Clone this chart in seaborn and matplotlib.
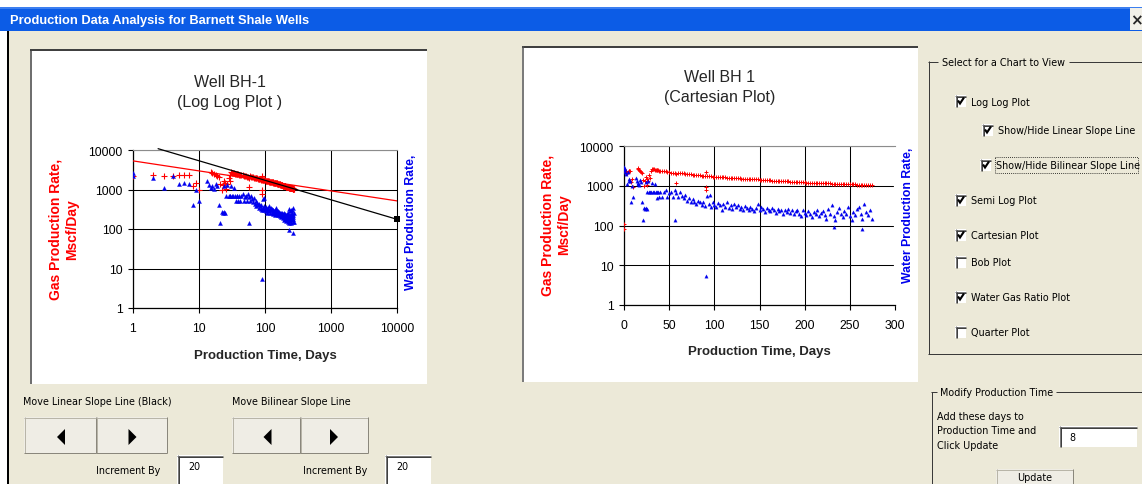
import numpy as np
import pandas as pd
import matplotlib
matplotlib.use("Agg")
import matplotlib.pyplot as plt
from matplotlib.patches import Rectangle, Polygon
from matplotlib.ticker import NullLocator
import seaborn as sns

nan = np.nan

# ---------------- data ----------------
days_a = [0, 1, 2, 3, 4, 5, 6, 7, 8, 9,
          10, 11, 12, 13, 14, 15, 16, 17, 18, 19,
          20, 21, 22, 23, 24, 25, 26, 27, 28, 29,
          30, 31, 32, 33, 34, 35, 36, 37, 38, 39,
          40]
gas_a = [80, 2250, 2300, 2150, 2250, 2300, 2300, 2300, 1250, 1500,
         950, nan, nan, nan, nan, 2800, 2650, 2500, 2350, 2200,
         2050, 1400, 1000, 1300, 1650, 1450, 1050, 1350, 1900, 1600,
         2300, 2700, 2650, 2600, 2550, 2500, 2480, 2450, 2430, 2400,
         2380]
water_a = [3000, 2200, 2000, 1100, 2200, 1350, 1500, 1350, 400, 1000,
           520, nan, nan, 1600, 1300, 1100, 1200, 1050, 1400, 1250,
           400, 140, 270, 260, 1250, 260, 680, 1300, 700, 680,
           680, 1200, 690, 680, 1100, 680, 500, 690, 700, 520,
           680]

days_b = [42, 44, 46, 48, 50, 52, 54, 56, 58, 60,
          62, 64, 66, 68, 70, 72, 74, 76, 78, 80,
          82, 84, 86, 88, 90, 92, 94, 96, 98, 100,
          102, 104, 106, 108, 110, 112, 114, 116, 118, 120,
          122, 124, 126, 128, 130, 132, 134, 136, 138, 140,
          142, 144, 146, 148, 150, 152, 154, 156, 158, 160,
          162, 164, 166, 168, 170, 172, 174, 176, 178, 180,
          182, 184, 186, 188, 190, 192, 194, 196, 198, 200,
          202, 204, 206, 208, 210, 212, 214, 216, 218, 220,
          222, 224, 226, 228, 230, 232, 234, 236, 238, 240,
          242, 244, 246, 248, 250, 252, 254, 256, 258, 260,
          262, 264, 266, 268, 270, 272, 274]
gas_b = [2350, 2330, 2300, 2250, 2200, 2150, 2100, 2050, 2000, 2150,
         2100, 2080, 2050, 2000, 1980, 1950, 1920, 1900, 1880, 1860,
         1840, 1820, 1800, 1780, 1760, 1750, 1740, 1720, 1700, 1690,
         1680, 1660, 1650, 1640, 1630, 1620, 1600, 1590, 1580, 1570,
         1560, 1550, 1540, 1530, 1520, 1510, 1500, 1490, 1480, 1470,
         1460, 1460, 1450, 1440, 1430, 1420, 1400, 1380, 1370, 1370,
         1360, 1350, 1340, 1340, 1330, 1320, 1310, 1300, 1300, 1290,
         1280, 1270, 1260, 1260, 1250, 1240, 1230, 1220, 1220, 1210,
         1200, 1200, 1190, 1190, 1180, 1180, 1170, 1170, 1160, 1160,
         1150, 1150, 1140, 1140, 1130, 1100, 1120, 1110, 1110, 1100,
         1100, 1100, 1090, 1090, 1090, 1080, 1080, 1080, 1070, 1070,
         1070, 1060, 1060, 1060, 1050, 1050, 1050]
water_b = [520, 700, 760, 520, 650, 700, 520, 760, 650, 520,
           700, 560, 480, 600, 420, 500, 380, 460, 400, 350,
           420, 380, 330, 400, 310, 560, 350, 300, 380, 320,
           290, 360, 330, 250, 340, 300, 380, 280, 320, 260,
           340, 300, 330, 260, 300, 240, 310, 280, 250, 300,
           260, 230, 280, 350, 240, 290, 260, 220, 280, 250,
           230, 270, 240, 210, 260, 230, 250, 200, 240, 220,
           260, 210, 240, 190, 230, 250, 200, 170, 240, 210,
           180, 230, 200, 160, 220, 190, 240, 170, 210, 230,
           180, 150, 260, 200, 320, 170, 140, 220, 280, 190,
           160, 230, 200, 300, 170, 140, 220, 180, 260, 300,
           200, 150, 340, 220, 180, 250, 150]

gas_extra_days = [0, 58, 91, 91, 91]
gas_extra = [110, 1150, 2250, 950, 780]
water_extra_days = [0.5, 1, 24, 57, 91, 95, 232, 263]
water_extra = [2500, 2600, 270, 140, 5.5, 600, 92, 80]

# slope lines of the log-log chart (end points)
linear_line_days = [2.4, 10000]
linear_line_rate = [10800, 176]
bilinear_line_days = [1, 10000]
bilinear_line_rate = [5300, 515]

rate_ticks = [1, 10, 100, 1000, 10000]
rate_tick_labels = ["1", "10", "100", "1000", "10000"]
loglog_day_ticks = [1, 10, 100, 1000, 10000]
loglog_day_labels = ["1", "10", "100", "1000", "10000"]
cart_day_ticks = [0, 50, 100, 150, 200, 250, 300]
cart_day_labels = ["0", "50", "100", "150", "200", "250", "300"]

checkbox_labels = ["Log Log Plot", "Show/Hide Linear Slope Line", "Show/Hide Bilinear Slope Line",
                   "Semi Log Plot", "Cartesian Plot", "Bob Plot", "Water Gas Ratio Plot", "Quarter Plot"]
checkbox_states = [True, True, True, True, True, False, True, False]

# ---------------- frames ----------------
gas_df = pd.DataFrame({"day": days_a + days_b + gas_extra_days,
                       "rate": gas_a + gas_b + gas_extra}).dropna()
water_df = pd.DataFrame({"day": days_a + days_b + water_extra_days,
                         "rate": water_a + water_b + water_extra}).dropna()

# ---------------- style ----------------
sns.set_style("white")
plt.rcParams['font.family'] = ['Liberation Sans', 'DejaVu Sans']
RED = '#FF0000'
BLUE = '#0000EE'
BEIGE = '#ECE9D8'
W, H = 1142, 485
PX = 0.72

fig = plt.figure(figsize=(W / 100, H / 100), dpi=100, facecolor=BEIGE)
bg = fig.add_axes([0, 0, 1, 1], zorder=0)
bg.set_xlim(0, W)
bg.set_ylim(H, 0)
bg.axis('off')


def rect(x0, y0, x1, y1, fc, ec='none', lw=0, z=1):
    bg.add_patch(Rectangle((x0, y0), x1 - x0, y1 - y0, facecolor=fc,
                           edgecolor=ec, linewidth=lw * PX, zorder=z))


def seg(xs, ys, c, lw=1, ls='-', z=3):
    bg.plot(xs, ys, color=c, lw=lw * PX, ls=ls, zorder=z, solid_capstyle='butt')


def ui_text(x, y, s, size=6.9, **kw):
    bg.text(x, y, s, fontsize=size, family=['DejaVu Sans'], va='center',
            ha=kw.pop('ha', 'left'), color='black', zorder=5, **kw)


def sunken(x0, y0, x1, y1):
    rect(x0, y0, x1, y1, 'white')
    seg([x0, x1], [y0 + 0.5, y0 + 0.5], '#7A7A7A', 1)
    seg([x0 + 0.5, x0 + 0.5], [y0, y1], '#7A7A7A', 1)
    seg([x0 + 1, x1], [y0 + 1.5, y0 + 1.5], '#404040', 1)
    seg([x0 + 1.5, x0 + 1.5], [y0 + 1, y1], '#404040', 1)


def button(x0, y0, x1, y1):
    rect(x0, y0, x1, y1, '#EFEDE5')
    seg([x0, x1], [y0 + 0.5, y0 + 0.5], '#B8B5A8', 1)
    seg([x0 + 0.5, x0 + 0.5], [y0, y1], '#B8B5A8', 1)
    seg([x0, x1], [y1 - 0.5, y1 - 0.5], '#8A877C', 1)
    seg([x1 - 0.5, x1 - 0.5], [y0, y1], '#8A877C', 1)


def triangle(cx, cy, direction):
    if direction < 0:
        pts = [(cx + 4, cy - 8), (cx + 4, cy + 8), (cx - 4, cy)]
    else:
        pts = [(cx - 4, cy - 8), (cx - 4, cy + 8), (cx + 4, cy)]
    bg.add_patch(Polygon(pts, closed=True, facecolor='black', edgecolor='none', zorder=5))


# title bar
rect(0, 0, W, 8, 'white')
rect(0, 8, W, 32, '#0C5CE6')
rect(0, 8, W, 10, '#3C7FF0')
bg.text(10, 21, "Production Data Analysis for Barnett Shale Wells", fontsize=9.3,
        weight='bold', color='white', va='center', ha='left', zorder=5,
        family=['Liberation Sans'])
rect(1130, 9, W, 31, '#F2F0E8')
bg.text(1136.5, 20.5, "×", fontsize=11, weight='bold', ha='center', va='center',
        family=['DejaVu Sans'], zorder=5)

# left window border
rect(0, 32, 7, H, 'white')
seg([7.5, 7.5], [32, H], 'black', 2)

# chart panels
rect(30, 50, 427, 385, 'white')
seg([30, 427], [51, 51], '#404040', 2)
seg([31, 31], [50, 385], '#404040', 1.5)
rect(522, 47, 918, 383, 'white')
seg([522, 918], [48, 48], '#404040', 2)
seg([523, 523], [47, 383], '#505050', 1.5)

# group box: chart selection
gb = '#3A3A3A'
seg([928, 938], [62.5, 62.5], gb, 1)
seg([1069, W], [62.5, 62.5], gb, 1)
seg([928.5, 928.5], [62, 355], gb, 1)
seg([928, W], [355, 355], gb, 1)
ui_text(942, 63, "Select for a Chart to View")

box_x = [955, 982, 980, 955, 955, 955, 955, 955]
box_y = [102, 131, 166, 201, 236, 263, 298, 333]
for lbl, state, bx, by in zip(checkbox_labels, checkbox_states, box_x, box_y):
    sunken(bx, by - 6, bx + 11, by + 6)
    if state:
        bg.plot([bx + 3, bx + 5, bx + 9], [by - 0.5, by + 2.5, by - 3.5], color='black',
                lw=2.1 * PX, zorder=6, solid_capstyle='butt', solid_joinstyle='miter')
    ui_text(bx + 16, by + 0.5, lbl)
# focus rectangle
bg.add_patch(Rectangle((994.5, 157.5), 143, 16, facecolor='none', edgecolor='black',
                       linewidth=0.6, linestyle=(0, (1, 1.5)), zorder=6))

# bottom-left controls
ui_text(23, 402, "Move Linear Slope Line (Black)")
ui_text(232, 402, "Move Bilinear Slope Line")
button(24, 418, 96, 454)
button(96, 418, 167, 454)
button(232, 418, 300, 454)
button(300, 418, 368, 454)
triangle(61, 438, -1)
triangle(132.5, 438, 1)
triangle(267.5, 438, -1)
triangle(334, 438, 1)
ui_text(96, 471, "Increment By")
ui_text(303, 471, "Increment By")
sunken(177, 456, 223, 490)
sunken(385, 456, 431, 490)
ui_text(188, 467, "20")
ui_text(396, 467, "20")

# bottom-right group box
seg([931, 937], [393, 393], gb, 1)
seg([1056, W], [393, 393], gb, 1)
seg([931.5, 931.5], [393, H], gb, 1)
ui_text(940, 393, "Modify Production Time")
ui_text(937, 417, "Add these days to")
ui_text(937, 431.5, "Production Time and")
ui_text(937, 446, "Click Update")
sunken(1059, 427, 1137, 448)
ui_text(1069, 438, "8")
button(996, 470, 1073, 492)
ui_text(1034.5, 478.5, "Update", ha='center')


# ---------------- charts ----------------
def axes_rect(x0, y0, x1, y1):
    return [x0 / W, 1 - y1 / H, (x1 - x0) / W, (y1 - y0) / H]


def style_axes(ax, right_color, right_lw):
    ax.set_facecolor('none')
    ax.set_yscale('log')
    ax.set_ylim(1, 10000)
    ax.set_yticks(rate_ticks, labels=rate_tick_labels)
    ax.yaxis.set_minor_locator(NullLocator())
    ax.grid(True, which='major', axis='both', color='black', lw=0.75)
    ax.set_axisbelow(True)
    ax.tick_params(axis='both', which='major', direction='out', length=3.6, width=0.8,
                   color='black', labelsize=8.8, labelcolor='black',
                   bottom=True, left=True, top=False, right=False)
    ax.tick_params(axis='x', pad=6.3)
    ax.tick_params(axis='y', pad=4.0)
    for s in ['left', 'bottom']:
        ax.spines[s].set_color('black')
        ax.spines[s].set_linewidth(0.9)
    ax.spines['top'].set_color('#8C8C8C')
    ax.spines['top'].set_linewidth(0.8)
    ax.spines['right'].set_color(right_color)
    ax.spines['right'].set_linewidth(right_lw)


# Log-log chart
ax1 = fig.add_axes(axes_rect(133, 151, 397, 309), zorder=2)
ll_gas = gas_df[gas_df["day"] >= 1]
ll_water = water_df[water_df["day"] >= 1]
sns.scatterplot(data=ll_gas, x="day", y="rate", ax=ax1, marker='+', color=RED,
                s=16, linewidth=0.8, legend=False, zorder=3)
sns.scatterplot(data=ll_water, x="day", y="rate", ax=ax1, marker='^', color=BLUE,
                s=9, linewidth=0.2, edgecolor=BLUE, legend=False, zorder=4)
sns.lineplot(x=bilinear_line_days, y=bilinear_line_rate, ax=ax1, color=RED, lw=0.9,
             sort=False, zorder=5)
sns.lineplot(x=linear_line_days, y=linear_line_rate, ax=ax1, color='black', lw=0.9,
             sort=False, zorder=5)
ax1.lines[-1].set_clip_on(False)
sns.scatterplot(x=linear_line_days[-1:], y=linear_line_rate[-1:], ax=ax1, marker='s',
                color='black', s=16, linewidth=0, legend=False, zorder=6, clip_on=False)
ax1.set_xscale('log')
ax1.set_xlim(1, 10000)
ax1.set_xticks(loglog_day_ticks, labels=loglog_day_labels)
ax1.xaxis.set_minor_locator(NullLocator())
style_axes(ax1, 'black', 0.75)
ax1.set_xlabel("Production Time, Days", fontsize=9.5, weight='bold', va='center')
ax1.xaxis.set_label_coords(0.5, (309 - 356) / 158)
ax1.set_ylabel("Gas Production Rate,\nMscf/Day", fontsize=10, weight='bold', color=RED,
               va='center', linespacing=1.22)
ax1.yaxis.set_label_coords(-0.263, 0.503)
ax1.text(1.053, 0.547, "Water Production Rate,", transform=ax1.transAxes, rotation=90,
         ha='center', va='center', fontsize=8.8, weight='bold', color=BLUE)
ax1.text(0.367, 1.37, "Well BH-1\n(Log Log Plot )", transform=ax1.transAxes,
         ha='center', va='center', fontsize=11.5, linespacing=1.42)

# Cartesian chart
ax2 = fig.add_axes(axes_rect(624, 147, 895, 306), zorder=2)
sns.scatterplot(data=gas_df, x="day", y="rate", ax=ax2, marker='+', color=RED,
                s=9, linewidth=0.7, legend=False, zorder=3)
sns.scatterplot(data=water_df, x="day", y="rate", ax=ax2, marker='^', color=BLUE,
                s=6, linewidth=0.2, edgecolor=BLUE, legend=False, zorder=4)
ax2.set_xlim(0, 300)
ax2.set_xticks(cart_day_ticks, labels=cart_day_labels)
style_axes(ax2, 'white', 1.6)
ax2.set_xlabel("Production Time, Days", fontsize=9.5, weight='bold', va='center')
ax2.xaxis.set_label_coords(0.5, (306 - 351.7) / 159)
ax2.set_ylabel("Gas Production Rate,\nMscf/Day", fontsize=10, weight='bold', color=RED,
               va='center', linespacing=1.22)
ax2.yaxis.set_label_coords(-0.253, 0.509)
ax2.text(1.048, 0.569, "Water Production Rate,", transform=ax2.transAxes, rotation=90,
         ha='center', va='center', fontsize=8.8, weight='bold', color=BLUE)
ax2.text(0.354, 1.374, "Well BH 1\n(Cartesian Plot)", transform=ax2.transAxes,
         ha='center', va='center', fontsize=11.5, linespacing=1.42)

fig.savefig("out.png", dpi=100, facecolor=BEIGE)
